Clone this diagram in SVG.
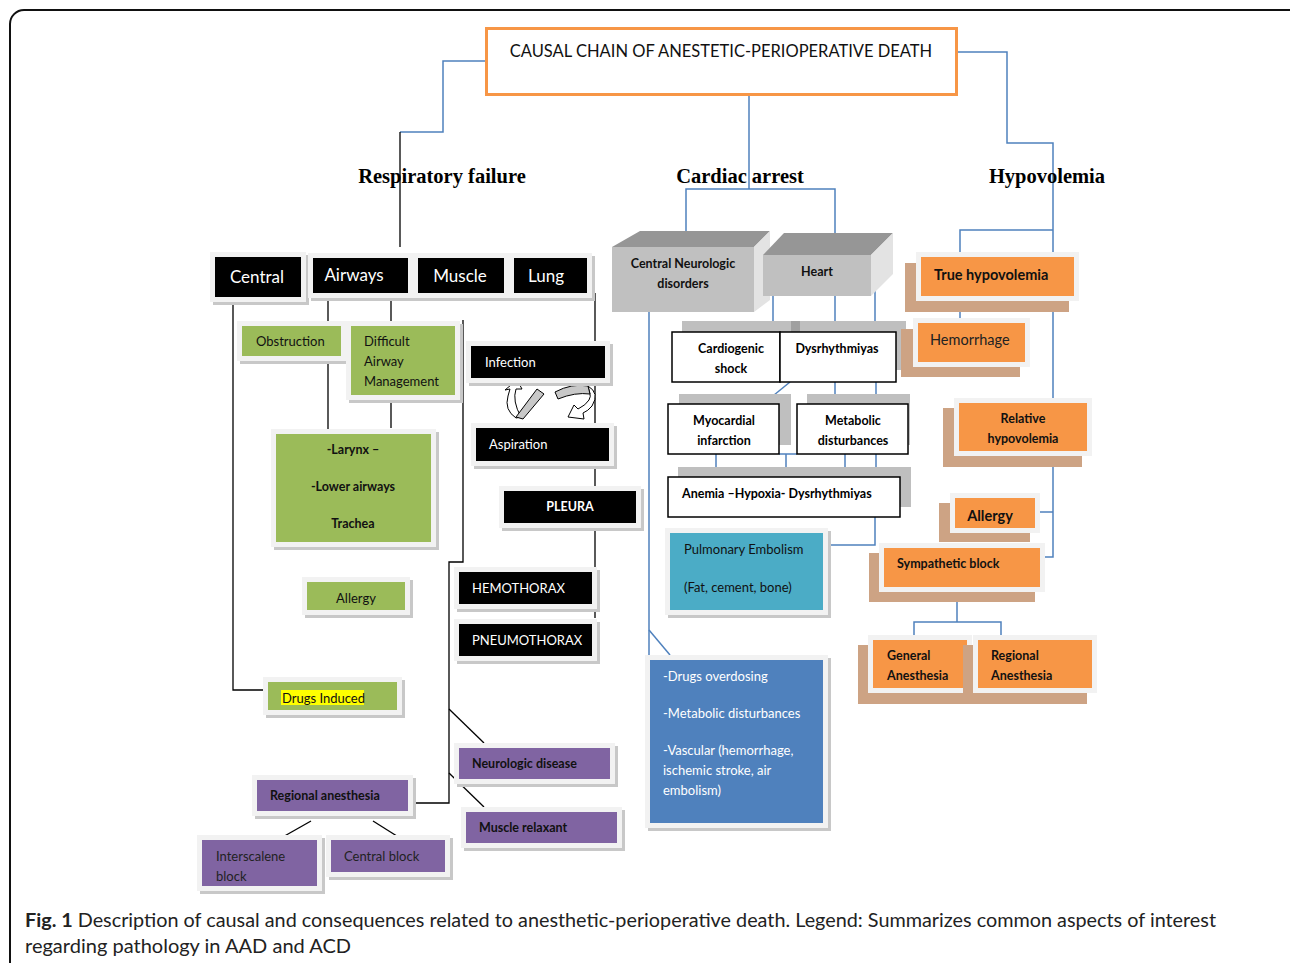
<svg xmlns="http://www.w3.org/2000/svg" width="1290" height="963" viewBox="0 0 1290 963">
<style>
.t{font-family:Lato,"Open Sans","Liberation Sans",sans-serif}
.hd{font-family:"Liberation Serif",serif;font-weight:bold;font-size:20.5px;fill:#000}
.halo{fill:#F2F2F2}
.sh{fill:#C8C8C8}
.blk{fill:#000}
.grn{fill:#9BBB59}
.pur{fill:#8064A2}
.org{fill:#F79646}
.tan{fill:#CDA384}
.gsh{fill:#BFBFBF}
.wb{fill:#fff;stroke:#000;stroke-width:1.5}
.wt{fill:#fff}
.dk{fill:#111}
.b{font-weight:bold}
.ln{stroke:#000;stroke-width:1.3;fill:none}
.bl{stroke:#4F81BD;stroke-width:1.5;fill:none}
.arw{stroke:#000;stroke-width:1}
</style>
<rect x="0" y="0" width="1290" height="963" fill="#fff"/>
<rect x="10" y="10" width="1300" height="990" rx="14" fill="none" stroke="#111" stroke-width="2"/>

<g id="connectors">
  <polyline class="bl" points="485,61 443,61 443,132 400,132"/>
  <line class="ln" x1="400" y1="132" x2="400" y2="247"/>
  <polyline class="bl" points="749,95 749,189"/>
  <polyline class="bl" points="686,236 686,189 835,189 835,236"/>
  <polyline class="bl" points="958,52 1007,52 1007,143 1053,143 1053,400"/>
  <polyline class="bl" points="960,256 960,230 1053,230"/>
  <line class="bl" x1="960" y1="296" x2="960" y2="323"/>
  <polyline class="bl" points="1053,455 1053,557 1038,557"/>
  <line class="bl" x1="1038" y1="512" x2="1053" y2="512"/>
  <line class="bl" x1="957" y1="597" x2="957" y2="622"/>
  <polyline class="bl" points="914,640 914,622 1001,622 1001,640"/>
  <line class="bl" x1="773" y1="296" x2="773" y2="332"/>
  <line class="bl" x1="835" y1="296" x2="835" y2="332"/>
  <line class="bl" x1="875" y1="277" x2="875" y2="324"/>
  <line class="bl" x1="790" y1="382" x2="763" y2="404"/>
  <line class="bl" x1="835" y1="382" x2="835" y2="404"/>
  <line class="bl" x1="876" y1="382" x2="876" y2="404"/>
  <line class="bl" x1="716" y1="454" x2="716" y2="477"/>
  <polyline class="bl" points="779,454 797,454"/>
  <line class="bl" x1="786" y1="454" x2="786" y2="477"/>
  <line class="bl" x1="845" y1="454" x2="845" y2="477"/>
  <line class="bl" x1="876" y1="454" x2="876" y2="477"/>
  <polyline class="bl" points="875,517 875,545 831,545"/>
  <polyline class="bl" points="649,312 649,660"/>
  <line class="bl" x1="649" y1="630" x2="670" y2="655"/>
  <polyline class="ln" points="233,297 233,690 265,690"/>
  <line class="ln" x1="328" y1="293" x2="328" y2="326"/>
  <line class="ln" x1="391" y1="293" x2="391" y2="325"/>
  <line class="ln" x1="328" y1="360" x2="328" y2="432"/>
  <line class="ln" x1="391" y1="400" x2="391" y2="428"/>
  <polyline class="ln" points="463,320 463,562 449,562 449,803 415,803"/>
  <line class="ln" x1="449" y1="709" x2="484" y2="743"/>
  <line class="ln" x1="449" y1="773" x2="484" y2="807"/>
  <line class="ln" x1="311" y1="821" x2="281" y2="838"/>
  <line class="ln" x1="373" y1="821" x2="400" y2="838"/>
  <line class="ln" x1="595" y1="293" x2="595" y2="345"/>
  <line class="ln" x1="595" y1="378" x2="595" y2="425"/>
  <line class="ln" x1="595" y1="462" x2="595" y2="488"/>
  <line class="ln" x1="595" y1="523" x2="595" y2="618"/>
  <!-- curved arrows -->
  <path class="arw" fill="#fff" d="M516,418 Q504,410 508,396 L510,389 L505,390 L517,380 L522,389 L516,389 Q512,401 521,417 Z"/>
  <path class="arw" fill="#C8C8C8" d="M537,389 L544,394 L523,419 L516,417 Z"/>
  <path class="arw" fill="#fff" d="M588,386 Q600,393 592,406 Q588,411 583,413 L584,419 L568,417 L574,405 L578,409 Q586,405 589,400 Q591,396 590,394 Z"/>
  <path class="arw" fill="#C8C8C8" d="M555,392 Q572,383 588,386 L590,394 Q575,392 558,399 Z"/>
</g>

<g id="title">
  <rect x="486.5" y="28.5" width="470" height="66" fill="#fff" stroke="#F79646" stroke-width="3"/>
  <text class="t" x="721" y="57" font-size="16.5" text-anchor="middle" fill="#111">CAUSAL CHAIN OF ANESTETIC-PERIOPERATIVE DEATH</text>
</g>

<g id="headers">
  <text class="hd" x="442" y="183" text-anchor="middle">Respiratory failure</text>
  <text class="hd" x="740" y="183" text-anchor="middle">Cardiac arrest</text>
  <text class="hd" x="1047" y="183" text-anchor="middle">Hypovolemia</text>
</g>

<g id="central">
  <rect class="sh" x="213" y="255" width="96" height="50"/><rect class="halo" x="210" y="252" width="96" height="50"/>
  <rect class="blk" x="215" y="257" width="86" height="40"/>
  <text class="t wt" x="257" y="283" font-size="17" text-anchor="middle">Central</text>
</g>
<g id="airways">
  <rect class="sh" x="311" y="256" width="105" height="45"/><rect class="halo" x="308" y="253" width="105" height="45"/>
  <rect class="blk" x="313" y="258" width="95" height="35"/>
  <text class="t wt" x="354" y="281" font-size="17" text-anchor="middle">Airways</text>
</g>
<g id="muscle">
  <rect class="sh" x="416" y="256" width="96" height="45"/><rect class="halo" x="413" y="253" width="96" height="45"/>
  <rect class="blk" x="418" y="258" width="86" height="35"/>
  <text class="t wt" x="460" y="282" font-size="17" text-anchor="middle">Muscle</text>
</g>
<g id="lung">
  <rect class="sh" x="512" y="256" width="83" height="45"/><rect class="halo" x="509" y="253" width="83" height="45"/>
  <rect class="blk" x="514" y="258" width="73" height="35"/>
  <text class="t wt" x="546" y="282" font-size="17" text-anchor="middle">Lung</text>
</g>

<g id="obstruction">
  <rect class="sh" x="240" y="324" width="109" height="40"/><rect class="halo" x="237" y="321" width="109" height="40"/>
  <rect class="grn" x="242" y="326" width="99" height="30"/>
  <text class="t dk" x="256" y="346" font-size="13">Obstruction</text>
</g>
<g id="difficult">
  <rect class="sh" x="349" y="324" width="114" height="79"/><rect class="halo" x="346" y="321" width="114" height="79"/>
  <rect class="grn" x="351" y="326" width="104" height="69"/>
  <text class="t dk" x="364" y="346" font-size="13">Difficult</text>
  <text class="t dk" x="364" y="366" font-size="13">Airway</text>
  <text class="t dk" x="364" y="386" font-size="13">Management</text>
</g>
<g id="larynx">
  <rect class="sh" x="274" y="432" width="165" height="118"/><rect class="halo" x="271" y="429" width="165" height="118"/>
  <rect class="grn" x="276" y="434" width="155" height="108"/>
  <text class="t dk b" x="353" y="454" font-size="12.5" text-anchor="middle">-Larynx –</text>
  <text class="t dk b" x="353" y="491" font-size="12.5" text-anchor="middle">-Lower airways</text>
  <text class="t dk b" x="353" y="528" font-size="12.5" text-anchor="middle">Trachea</text>
</g>
<g id="allergy-resp">
  <rect class="sh" x="305" y="580" width="108" height="38"/><rect class="halo" x="302" y="577" width="108" height="38"/>
  <rect class="grn" x="307" y="582" width="98" height="28"/>
  <text class="t dk" x="356" y="603" font-size="13" text-anchor="middle">Allergy</text>
</g>
<g id="drugs-induced">
  <rect class="sh" x="266" y="680" width="139" height="38"/><rect class="halo" x="263" y="677" width="139" height="38"/>
  <rect class="grn" x="268" y="682" width="129" height="28"/>
  <rect x="281" y="690" width="83" height="15" fill="#FFFF00"/>
  <text class="t dk" x="282" y="703" font-size="13">Drugs Induced</text>
</g>

<g id="infection">
  <rect class="sh" x="469" y="344" width="144" height="42"/><rect class="halo" x="466" y="341" width="144" height="42"/>
  <rect class="blk" x="471" y="346" width="134" height="32"/>
  <text class="t wt" x="485" y="367" font-size="13">Infection</text>
</g>
<g id="aspiration">
  <rect class="sh" x="474" y="426" width="143" height="43"/><rect class="halo" x="471" y="423" width="143" height="43"/>
  <rect class="blk" x="476" y="428" width="133" height="33"/>
  <text class="t wt" x="489" y="449" font-size="13">Aspiration</text>
</g>
<g id="pleura">
  <rect class="sh" x="502" y="489" width="142" height="42"/><rect class="halo" x="499" y="486" width="142" height="42"/>
  <rect class="blk" x="504" y="491" width="132" height="32"/>
  <text class="t wt b" x="570" y="511" font-size="12.5" text-anchor="middle">PLEURA</text>
</g>
<g id="hemothorax">
  <rect class="sh" x="457" y="570" width="143" height="42"/><rect class="halo" x="454" y="567" width="143" height="42"/>
  <rect class="blk" x="459" y="572" width="133" height="32"/>
  <text class="t wt" x="472" y="593" font-size="13">HEMOTHORAX</text>
</g>
<g id="pneumothorax">
  <rect class="sh" x="457" y="622" width="143" height="42"/><rect class="halo" x="454" y="619" width="143" height="42"/>
  <rect class="blk" x="459" y="624" width="133" height="32"/>
  <text class="t wt" x="472" y="645" font-size="13">PNEUMOTHORAX</text>
</g>

<g id="neurologic-disease">
  <rect class="sh" x="457" y="746" width="161" height="41"/><rect class="halo" x="454" y="743" width="161" height="41"/>
  <rect class="pur" x="459" y="748" width="151" height="31"/>
  <text class="t dk b" x="472" y="768" font-size="12.5">Neurologic disease</text>
</g>
<g id="muscle-relaxant">
  <rect class="sh" x="464" y="810" width="161" height="41"/><rect class="halo" x="461" y="807" width="161" height="41"/>
  <rect class="pur" x="466" y="812" width="151" height="31"/>
  <text class="t dk b" x="479" y="832" font-size="12.5">Muscle relaxant</text>
</g>
<g id="regional-anesthesia-resp">
  <rect class="sh" x="255" y="778" width="161" height="41"/><rect class="halo" x="252" y="775" width="161" height="41"/>
  <rect class="pur" x="257" y="780" width="151" height="31"/>
  <text class="t dk b" x="270" y="800" font-size="12.5">Regional anesthesia</text>
</g>
<g id="interscalene">
  <rect class="sh" x="200" y="838" width="125" height="56"/><rect class="halo" x="197" y="835" width="125" height="56"/>
  <rect class="pur" x="202" y="840" width="115" height="46"/>
  <text class="t" x="216" y="861" font-size="13" fill="#222">Interscalene</text>
  <text class="t" x="216" y="881" font-size="13" fill="#222">block</text>
</g>
<g id="central-block">
  <rect class="sh" x="329" y="838" width="124" height="42"/><rect class="halo" x="326" y="835" width="124" height="42"/>
  <rect class="pur" x="331" y="840" width="114" height="32"/>
  <text class="t" x="344" y="861" font-size="13" fill="#222">Central block</text>
</g>

<g id="central-neurologic">
  <polygon points="612,247 640,231 770,231 754,247" fill="#969696"/>
  <polygon points="754,247 770,231 770,300 754,312" fill="#E3E3E3"/>
  <rect x="612" y="247" width="142" height="65" fill="#C0C0C0"/>
  <text class="t b" x="683" y="268" font-size="12.5" text-anchor="middle" fill="#111">Central Neurologic</text>
  <text class="t b" x="683" y="288" font-size="12.5" text-anchor="middle" fill="#111">disorders</text>
</g>
<g id="heart">
  <polygon points="763,255 784,233 893,233 871,255" fill="#969696"/>
  <polygon points="871,255 893,233 893,274 871,296" fill="#E3E3E3"/>
  <rect x="763" y="255" width="108" height="41" fill="#C0C0C0"/>
  <text class="t b" x="817" y="276" font-size="12.5" text-anchor="middle" fill="#111">Heart</text>
</g>
<g id="cardiogenic-shock">
  <rect class="gsh" x="682" y="321" width="118" height="50"/>
  <rect class="wb" x="672" y="332" width="108" height="50"/>
  <text class="t b" x="731" y="353" font-size="12.5" text-anchor="middle">Cardiogenic</text>
  <text class="t b" x="731" y="373" font-size="12.5" text-anchor="middle">shock</text>
</g>
<g id="dysrhythmiyas">
  <rect class="gsh" x="791" y="321" width="115" height="49"/>
  <rect x="791" y="321" width="9" height="11" fill="#A0A0A0"/>
  <rect class="wb" x="780" y="332" width="116" height="50"/>
  <text class="t b" x="837" y="353" font-size="12.5" text-anchor="middle">Dysrhythmiyas</text>
</g>
<g id="myocardial-infarction">
  <rect class="gsh" x="679" y="394" width="112" height="51"/>
  <rect class="wb" x="668" y="404" width="111" height="50"/>
  <text class="t b" x="724" y="425" font-size="12.5" text-anchor="middle">Myocardial</text>
  <text class="t b" x="724" y="445" font-size="12.5" text-anchor="middle">infarction</text>
</g>
<g id="metabolic-disturbances">
  <rect class="gsh" x="807" y="394" width="103" height="51"/>
  <rect class="wb" x="797" y="404" width="111" height="50"/>
  <text class="t b" x="853" y="425" font-size="12.5" text-anchor="middle">Metabolic</text>
  <text class="t b" x="853" y="445" font-size="12.5" text-anchor="middle">disturbances</text>
</g>
<g id="anemia">
  <rect class="gsh" x="678" y="467" width="233" height="40"/>
  <rect class="wb" x="668" y="477" width="232" height="40"/>
  <text class="t b" x="682" y="498" font-size="12.5">Anemia –Hypoxia- Dysrhythmiyas</text>
</g>
<g id="pulmonary-embolism">
  <rect class="sh" x="668" y="531" width="163" height="87"/><rect class="halo" x="665" y="528" width="163" height="87"/>
  <rect x="670" y="533" width="153" height="77" fill="#4BACC6"/>
  <text class="t dk" x="684" y="554" font-size="13">Pulmonary Embolism</text>
  <text class="t dk" x="684" y="592" font-size="13">(Fat, cement, bone)</text>
</g>
<g id="neuro-causes">
  <rect class="sh" x="648" y="658" width="183" height="173"/><rect class="halo" x="645" y="655" width="183" height="173"/>
  <rect x="650" y="660" width="173" height="163" fill="#4F81BD"/>
  <text class="t wt" x="663" y="681" font-size="13">-Drugs overdosing</text>
  <text class="t wt" x="663" y="718" font-size="13">-Metabolic disturbances</text>
  <text class="t wt" x="663" y="755" font-size="13">-Vascular (hemorrhage,</text>
  <text class="t wt" x="663" y="775" font-size="13">ischemic stroke, air</text>
  <text class="t wt" x="663" y="795" font-size="13">embolism)</text>
</g>

<g id="true-hypovolemia">
  <rect class="tan" x="905" y="263" width="164" height="49"/>
  <rect class="halo" x="916" y="252" width="163" height="49"/>
  <rect class="org" x="921" y="257" width="153" height="39"/>
  <text class="t b" x="934" y="280" font-size="14.5" fill="#111">True hypovolemia</text>
</g>
<g id="hemorrhage">
  <rect class="tan" x="901" y="329" width="119" height="48"/>
  <rect class="halo" x="913" y="318" width="117" height="49"/>
  <rect class="org" x="918" y="323" width="107" height="39"/>
  <text class="t" x="930" y="345" font-size="14.5" fill="#222">Hemorrhage</text>
</g>
<g id="relative-hypovolemia">
  <rect class="tan" x="943" y="408" width="139" height="59"/>
  <rect class="halo" x="954" y="398" width="138" height="58"/>
  <rect class="org" x="959" y="403" width="128" height="48"/>
  <text class="t b" x="1023" y="423" font-size="12.5" text-anchor="middle" fill="#111">Relative</text>
  <text class="t b" x="1023" y="443" font-size="12.5" text-anchor="middle" fill="#111">hypovolemia</text>
</g>
<g id="allergy-hypo">
  <rect class="tan" x="939" y="503" width="91" height="39"/>
  <rect class="halo" x="950" y="493" width="90" height="40"/>
  <rect class="org" x="955" y="498" width="80" height="30"/>
  <text class="t b" x="990" y="521" font-size="14.5" text-anchor="middle" fill="#111">Allergy</text>
</g>
<g id="sympathetic-block">
  <rect class="tan" x="869" y="553" width="166" height="49"/>
  <rect class="halo" x="879" y="543" width="166" height="49"/>
  <rect class="org" x="884" y="548" width="156" height="39"/>
  <text class="t b" x="897" y="568" font-size="12.5" fill="#111">Sympathetic block</text>
</g>
<g id="general-anesthesia">
  <rect class="tan" x="858" y="645" width="110" height="59"/>
  <rect class="halo" x="868" y="635" width="104" height="58"/>
  <rect class="org" x="873" y="640" width="94" height="48"/>
  <text class="t b" x="887" y="660" font-size="12.5" fill="#111">General</text>
  <text class="t b" x="887" y="680" font-size="12.5" fill="#111">Anesthesia</text>
</g>
<g id="regional-anesthesia-hypo">
  <rect class="tan" x="963" y="645" width="124" height="59"/>
  <rect class="halo" x="973" y="635" width="124" height="58"/>
  <rect class="org" x="978" y="640" width="114" height="48"/>
  <text class="t b" x="991" y="660" font-size="12.5" fill="#111">Regional</text>
  <text class="t b" x="991" y="680" font-size="12.5" fill="#111">Anesthesia</text>
</g>

<g id="caption">
  <text class="t" x="25" y="927" font-size="19.5" fill="#222" textLength="1191" lengthAdjust="spacingAndGlyphs"><tspan font-weight="bold">Fig. 1</tspan> Description of causal and consequences related to anesthetic-perioperative death. Legend: Summarizes common aspects of interest</text>
  <text class="t" x="25" y="953" font-size="19.5" fill="#222" textLength="326" lengthAdjust="spacingAndGlyphs">regarding pathology in AAD and ACD</text>
</g>
</svg>
